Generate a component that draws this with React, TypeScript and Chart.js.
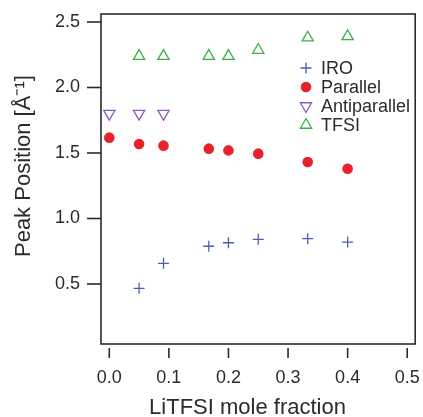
import React, { useEffect, useRef } from "react";
import { Chart, registerables } from "chart.js";

Chart.register(...registerables);

const moleFraction = [0, 0.05, 0.091, 0.167, 0.2, 0.25, 0.333, 0.4];
const iroPeak = [null, 0.467, 0.658, 0.788, 0.815, 0.841, 0.846, 0.82];
const parallelPeak = [1.617, 1.569, 1.556, 1.533, 1.52, 1.495, 1.431, 1.38];
const antiparallelPeak = [1.8, 1.8, 1.8, null, null, null, null, null];
const tfsiPeak = [null, 2.24, 2.24, 2.24, 2.24, 2.286, 2.38, 2.39];

const xTicks = [0, 0.1, 0.2, 0.3, 0.4, 0.5];
const yTicks = [0.5, 1.0, 1.5, 2.0, 2.5];

const seriesNames = ["IRO", "Parallel", "Antiparallel", "TFSI"];
const seriesColors = ["#4f5cb5", "#e8222b", "#8a5bbd", "#3daf45"];

const xTitle = "LiTFSI mole fraction";
const yTitle = "Peak Position [Å⁻¹]";

const FONT = "'Liberation Sans', Arial, Helvetica, sans-serif";
const INK = "#2b2b2b";

function toPoints(values: (number | null)[]) {
  const out: { x: number; y: number }[] = [];
  moleFraction.forEach((x, i) => {
    const v = values[i];
    if (v !== null && v !== undefined) out.push({ x, y: v });
  });
  return out;
}

function drawMarker(ctx: CanvasRenderingContext2D, style: string, rot: number, x: number, y: number, r: number) {
  ctx.beginPath();
  if (style === "cross") {
    ctx.moveTo(x, y - r);
    ctx.lineTo(x, y + r);
    ctx.moveTo(x - r, y);
    ctx.lineTo(x + r, y);
    ctx.stroke();
  } else if (style === "circle") {
    ctx.arc(x, y, r, 0, Math.PI * 2);
    ctx.fill();
  } else {
    let rad = (rot * Math.PI) / 180;
    ctx.moveTo(x + Math.sin(rad) * r, y - Math.cos(rad) * r);
    rad += (2 * Math.PI) / 3;
    ctx.lineTo(x + Math.sin(rad) * r, y - Math.cos(rad) * r);
    rad += (2 * Math.PI) / 3;
    ctx.lineTo(x + Math.sin(rad) * r, y - Math.cos(rad) * r);
    ctx.closePath();
    ctx.stroke();
  }
}

const framePlugin = {
  id: "frameAndLegend",
  afterDraw(chart: any) {
    const { ctx, chartArea, scales } = chart;
    ctx.save();
    ctx.strokeStyle = INK;
    ctx.lineWidth = 1.6;
    ctx.strokeRect(chartArea.left, chartArea.top, chartArea.right - chartArea.left, chartArea.bottom - chartArea.top);
    // x ticks, offset below the frame
    const xs = scales.x;
    xs.ticks.forEach((t: any) => {
      const px = xs.getPixelForValue(t.value);
      ctx.beginPath();
      ctx.moveTo(px, chartArea.bottom + 4);
      ctx.lineTo(px, chartArea.bottom + 14);
      ctx.stroke();
    });
    // y ticks, attached to the frame
    const ys = scales.y;
    ys.ticks.forEach((t: any) => {
      const py = ys.getPixelForValue(t.value);
      ctx.beginPath();
      ctx.moveTo(chartArea.left - 14, py);
      ctx.lineTo(chartArea.left, py);
      ctx.stroke();
    });
    // axis titles
    ctx.fillStyle = INK;
    ctx.font = `22px ${FONT}`;
    ctx.textAlign = "center";
    ctx.textBaseline = "middle";
    ctx.fillText(xTitle, xs.getPixelForValue(0.232), chartArea.bottom + 64);
    ctx.save();
    ctx.translate(23.5, ys.getPixelForValue(1.4));
    ctx.rotate(-Math.PI / 2);
    ctx.fillText(yTitle, 0, 0);
    ctx.restore();
    // legend
    const lx = chartArea.left + 205;
    const ly0 = chartArea.top + 54;
    const step = 19;
    chart.data.datasets.forEach((ds: any, i: number) => {
      const y = ly0 + i * step;
      ctx.strokeStyle = ds.borderColor;
      ctx.fillStyle = ds.backgroundColor;
      ctx.lineWidth = ds.borderWidth;
      drawMarker(ctx, ds.pointStyle, ds.rotation || 0, lx, y, ds.legendRadius);
      ctx.fillStyle = INK;
      ctx.font = `18px ${FONT}`;
      ctx.textAlign = "left";
      ctx.textBaseline = "middle";
      ctx.fillText(ds.label, lx + 15, y + 1);
    });
    ctx.restore();
  },
};

export default function App() {
  const ref = useRef<HTMLCanvasElement>(null);
  useEffect(() => {
    if (!ref.current) return;
    const chart = new Chart(ref.current, {
      type: "scatter",
      data: {
        datasets: [
          {
            label: seriesNames[0],
            data: toPoints(iroPeak),
            pointStyle: "cross",
            pointRadius: 5.5,
            borderColor: seriesColors[0],
            backgroundColor: seriesColors[0],
            borderWidth: 1.3,
            legendRadius: 5.5,
          } as any,
          {
            label: seriesNames[1],
            data: toPoints(parallelPeak),
            pointStyle: "circle",
            pointRadius: 5.3,
            borderColor: seriesColors[1],
            backgroundColor: seriesColors[1],
            borderWidth: 0,
            legendRadius: 5.3,
          } as any,
          {
            label: seriesNames[2],
            data: toPoints(antiparallelPeak),
            pointStyle: "triangle",
            rotation: 180,
            pointRadius: 6.5,
            borderColor: seriesColors[2],
            backgroundColor: "rgba(0,0,0,0)",
            borderWidth: 1.3,
            legendRadius: 6.5,
          } as any,
          {
            label: seriesNames[3],
            data: toPoints(tfsiPeak),
            pointStyle: "triangle",
            pointRadius: 6.5,
            borderColor: seriesColors[3],
            backgroundColor: "rgba(0,0,0,0)",
            borderWidth: 1.3,
            legendRadius: 6.5,
          } as any,
        ],
      },
      options: {
        responsive: false,
        animation: false,
        events: [],
        layout: { padding: { top: 14, right: 7, left: 0, bottom: 0 } },
        plugins: { legend: { display: false }, tooltip: { enabled: false } },
        scales: {
          x: {
            type: "linear",
            min: -0.0139,
            max: 0.5134,
            afterBuildTicks: (s: any) => {
              s.ticks = xTicks.map((v) => ({ value: v }));
            },
            afterFit: (s: any) => {
              s.height = 73;
              s.paddingLeft = 0;
              s.paddingRight = 0;
            },
            grid: { display: false, drawTicks: false },
            border: { display: false },
            ticks: {
              padding: 23,
              color: INK,
              font: { family: FONT, size: 18 },
              callback: (v: any) => Number(v).toFixed(1),
            },
            title: { display: false, text: xTitle },
          },
          y: {
            type: "linear",
            min: 0.042,
            max: 2.561,
            afterBuildTicks: (s: any) => {
              s.ticks = yTicks.map((v) => ({ value: v }));
            },
            afterFit: (s: any) => {
              s.width = 101;
              s.paddingTop = 0;
              s.paddingBottom = 0;
            },
            grid: { display: false, drawTicks: false },
            border: { display: false },
            ticks: {
              padding: 21,
              color: INK,
              font: { family: FONT, size: 18 },
              callback: (v: any) => Number(v).toFixed(1),
            },
            title: { display: false, text: yTitle },
          },
        },
      },
      plugins: [framePlugin],
    });
    return () => chart.destroy();
  }, []);
  return (
    <div style={{ position: "fixed", left: 0, top: 0, width: 423, height: 417, background: "#fff" }}>
      <canvas ref={ref} width={423} height={417} />
    </div>
  );
}
